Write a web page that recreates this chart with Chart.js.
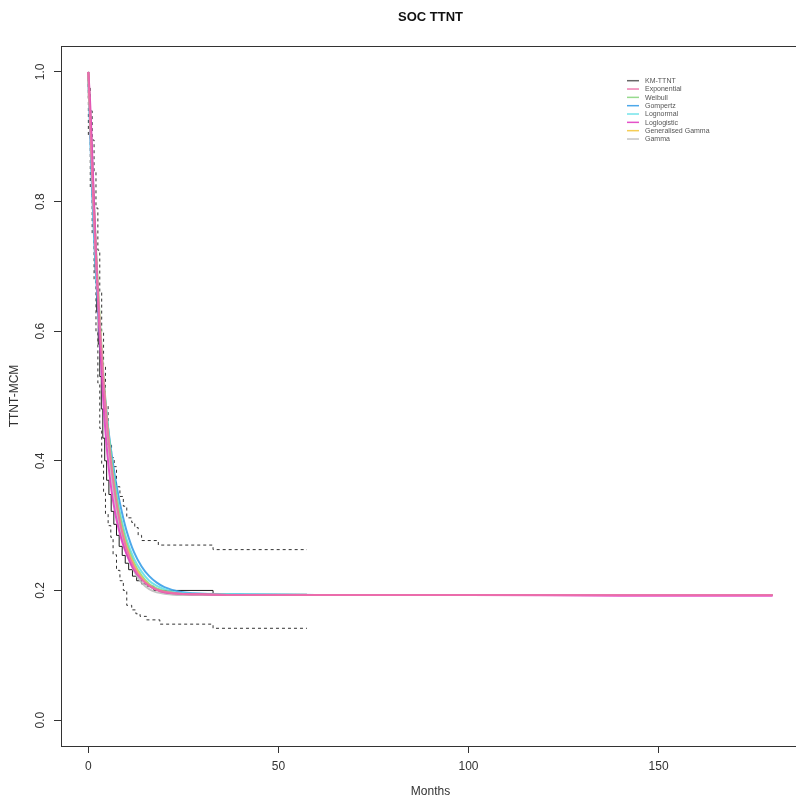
<!DOCTYPE html>
<html><head><meta charset="utf-8">
<script src="https://cdn.jsdelivr.net/npm/chart.js@4"></script>
<style>
html,body{margin:0;padding:0;background:#fff;overflow:hidden}
#wrap{width:796px;height:798px;overflow:hidden;position:relative;background:#fff}
canvas{display:block}
</style></head>
<body><div id="wrap"><canvas id="c" width="806" height="798"></canvas></div>
<script>
// ---- tick labels ----
const xTickValues = [0, 50, 100, 150];
const yTickValues = [0, 0.2, 0.4, 0.6, 0.8, 1.0];

// ---- Kaplan-Meier (step) ----
const kmTimes = [0,0.3,0.6,1.0,1.4,1.8,2.2,2.6,3.0,3.4,3.8,4.3,4.8,5.4,6.0,6.7,7.4,8.1,8.9,9.7,10.6,11.6,12.7,14.0,15.5,17.2,32.8,38.8,57.5];
const kmSurv  = [1.0,0.96,0.92,0.87,0.81,0.75,0.69,0.63,0.58,0.53,0.48,0.435,0.40,0.37,0.348,0.322,0.302,0.285,0.268,0.254,0.242,0.232,0.222,0.215,0.21,0.2065,0.200,0.194,0.194];

const ciUpperTimes = [0,0.5,1,1.5,2,2.5,3,3.5,4,4.5,5.2,6.1,6.8,7.4,8.3,9.2,10.1,11.4,12.2,13.1,14.0,18.4,32.8,38.8,57.5];
const ciUpper      = [1.0,0.975,0.94,0.895,0.845,0.79,0.725,0.66,0.6,0.545,0.485,0.424,0.405,0.391,0.36,0.345,0.33,0.312,0.305,0.297,0.285,0.277,0.270,0.263,0.263];
const ciLowerTimes = [0,0.5,1,1.5,2,2.5,3,3.5,4,4.5,5.2,5.9,6.5,7.4,8.3,9.2,10.1,11.4,12.5,13.6,15.3,18.8,32.8,38.8,57.5];
const ciLower      = [1.0,0.9,0.82,0.75,0.68,0.6,0.52,0.45,0.395,0.35,0.318,0.3,0.282,0.255,0.231,0.215,0.2,0.177,0.17,0.164,0.16,0.1546,0.148,0.1416,0.1416];

// ---- fitted mixture-cure curves ----
const fitTimes    = [0,0.5,1,1.5,2,3,4,5,6,7,8,9,10,12,14,16,18,20,24,30,40,60,100,140,180];
const exponential = [1.000,0.916,0.840,0.772,0.711,0.606,0.521,0.451,0.395,0.350,0.314,0.287,0.265,0.236,0.218,0.207,0.201,0.198,0.195,0.194,0.193,0.193,0.193,0.193,0.193];
const weibull     = [1.000,0.935,0.862,0.792,0.728,0.618,0.530,0.460,0.405,0.360,0.324,0.296,0.274,0.243,0.223,0.210,0.203,0.199,0.195,0.194,0.193,0.193,0.193,0.193,0.193];
const gompertz    = [1.000,0.900,0.815,0.745,0.688,0.592,0.518,0.461,0.415,0.376,0.343,0.316,0.293,0.259,0.237,0.222,0.212,0.205,0.198,0.195,0.194,0.193,0.193,0.193,0.193];
const lognormal   = [1.000,0.910,0.830,0.760,0.700,0.602,0.524,0.460,0.407,0.364,0.329,0.302,0.280,0.249,0.229,0.215,0.207,0.202,0.196,0.195,0.194,0.193,0.193,0.193,0.193];
const loglogistic = [1.000,0.948,0.875,0.796,0.720,0.588,0.485,0.410,0.358,0.321,0.294,0.273,0.257,0.232,0.217,0.207,0.201,0.197,0.195,0.194,0.193,0.193,0.193,0.192,0.192];
const genGamma    = [1.000,0.930,0.856,0.785,0.720,0.610,0.520,0.448,0.393,0.349,0.315,0.289,0.268,0.239,0.220,0.208,0.201,0.197,0.194,0.193,0.193,0.193,0.193,0.193,0.193];
const gamma       = [1.000,0.932,0.860,0.789,0.724,0.612,0.518,0.442,0.383,0.338,0.304,0.278,0.258,0.230,0.212,0.202,0.197,0.195,0.193,0.193,0.193,0.193,0.193,0.193,0.193];

const seriesNames = ['KM-TTNT','Exponential','Weibull','Gompertz','Lognormal','Loglogistic','Generalised Gamma','Gamma'];

function pts(ts, vs){ return ts.map((t,i)=>({x:t, y:vs[i]})); }

const FONT = "'Liberation Sans', Arial, Helvetica, sans-serif";
Chart.defaults.font.family = FONT;
Chart.defaults.color = '#333';

function fitDS(label, data, color, order){
  return {label, data: pts(fitTimes, data), borderColor: color, backgroundColor: color,
    borderWidth: 2, pointRadius: 0, cubicInterpolationMode: 'monotone', fill: false, order};
}

const datasets = [
  {label: seriesNames[0], data: pts(kmTimes, kmSurv), borderColor: '#1a1a1a', borderWidth: 1, pointRadius: 0, stepped: 'after', fill: false, order: 12, legendColor: '#666'},
  {label: 'CI upper', data: pts(ciUpperTimes, ciUpper), borderColor: '#333', borderWidth: 1, borderDash: [3,3], pointRadius: 0, stepped: 'after', fill: false, order: 11, hideLegend: true},
  {label: 'CI lower', data: pts(ciLowerTimes, ciLower), borderColor: '#333', borderWidth: 1, borderDash: [3,3], pointRadius: 0, stepped: 'after', fill: false, order: 11, hideLegend: true},
  fitDS(seriesNames[1], exponential, 'rgba(236,112,168,0.9)', 1),
  fitDS(seriesNames[2], weibull, 'rgba(140,214,130,0.9)', 7),
  fitDS(seriesNames[3], gompertz, 'rgba(58,158,232,0.9)', 9),
  fitDS(seriesNames[4], lognormal, 'rgba(100,224,232,0.9)', 8),
  fitDS(seriesNames[5], loglogistic, 'rgba(224,50,192,0.85)', 2),
  fitDS(seriesNames[6], genGamma, 'rgba(245,200,66,0.9)', 4),
  fitDS(seriesNames[7], gamma, 'rgba(190,190,190,0.9)', 3)
];

const framePlugin = {
  id: 'frame',
  afterLayout(chart){
    const t = chart.titleBlock;
    if (t) { t.left = chart.chartArea.left; t.right = chart.chartArea.right; t.width = t.right - t.left; }
  },
  afterDraw(chart){
    const {ctx, chartArea: a} = chart;
    ctx.save();
    ctx.strokeStyle = '#333'; ctx.lineWidth = 1;
    ctx.strokeRect(Math.round(a.left)+0.5, Math.round(a.top)+0.5, Math.round(a.right-a.left), Math.round(a.bottom-a.top));
    // legend (items taken from the datasets)
    const lx = 627, ly = 80.7, step = 8.33;
    let k = 0;
    ctx.font = "7px " + FONT;
    ctx.textBaseline = 'middle';
    ctx.textAlign = 'left';
    chart.data.datasets.forEach(ds => {
      if (ds.hideLegend) return;
      const y = ly + k * step;
      ctx.strokeStyle = ds.legendColor || ds.borderColor;
      ctx.lineWidth = 1.5;
      ctx.beginPath(); ctx.moveTo(lx, y); ctx.lineTo(lx + 12, y); ctx.stroke();
      ctx.fillStyle = '#555';
      ctx.fillText(ds.label, lx + 18, y + 0.5);
      k++;
    });
    ctx.restore();
  }
};

new Chart(document.getElementById('c'), {
  type: 'line',
  data: {datasets},
  options: {
    responsive: false,
    animation: false,
    devicePixelRatio: 1,
    layout: {padding: {left: 0, right: 6, top: 0, bottom: 0}},
    plugins: {
      legend: {display: false},
      tooltip: {enabled: false},
      title: {display: true, text: 'SOC TTNT', color: '#111',
        font: {size: 13, weight: 'bold', family: FONT, lineHeight: 1.2},
        padding: {top: 10, bottom: 20.4}}
    },
    scales: {
      x: {
        type: 'linear', min: -7.2, max: 187.2,
        afterBuildTicks: s => { s.ticks = xTickValues.map(v => ({value: v})); },
        afterFit: s => { s.height = 52; },
        ticks: {font: {size: 12}, color: '#333', padding: 6, maxRotation: 0, autoSkip: false},
        grid: {display: true, drawOnChartArea: false, drawTicks: true, tickLength: 7, color: '#333', tickColor: '#333'},
        border: {display: true, color: '#333', width: 1},
        title: {display: true, text: 'Months', font: {size: 12}, color: '#333', padding: {top: 0, bottom: -1}}
      },
      y: {
        type: 'linear', min: -0.04, max: 1.04,
        afterBuildTicks: s => { s.ticks = yTickValues.map(v => ({value: v})); },
        afterFit: s => { s.width = 61; },
        ticks: {font: {size: 12}, color: '#333', padding: 5, minRotation: 90, maxRotation: 90, crossAlign: 'center', autoSkip: false,
          callback: v => Number(v).toFixed(1)},
        grid: {display: true, drawOnChartArea: false, drawTicks: true, tickLength: 7, color: '#333', tickColor: '#333'},
        border: {display: true, color: '#333', width: 1},
        title: {display: true, text: 'TTNT-MCM', font: {size: 12}, color: '#333', padding: {top: 7, bottom: 0}}
      }
    }
  },
  plugins: [framePlugin]
});
</script>
</body></html>
